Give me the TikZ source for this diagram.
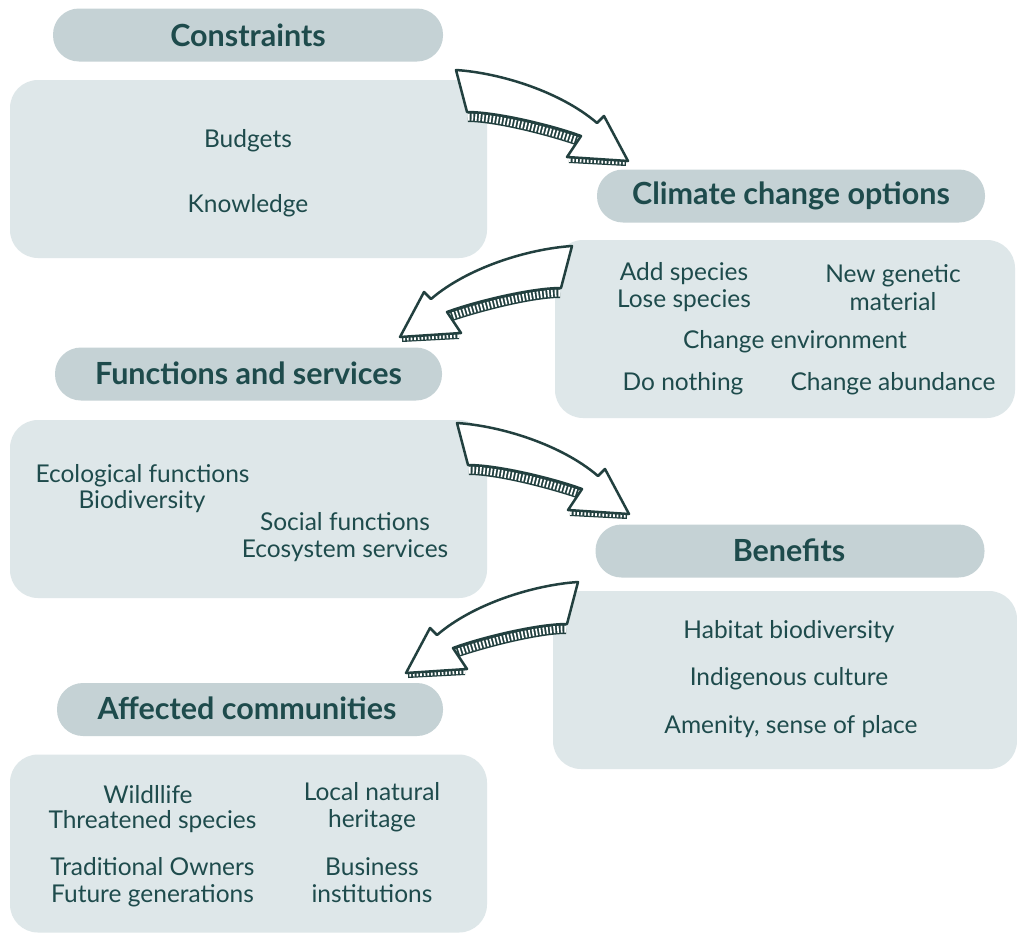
\documentclass[tikz,border=0pt]{standalone}
\usepackage{fontspec}
\setmainfont{Lato}
\definecolor{hdrc}{HTML}{C5D2D5}
\definecolor{bodyc}{HTML}{DEE7E9}
\definecolor{ink}{HTML}{1E4B4C}
\definecolor{arrc}{HTML}{22403F}
\tikzset{
  hdrbox/.style={fill=hdrc, rounded corners=26pt, minimum height=53pt, inner sep=0pt},
  bodybox/.style={fill=bodyc, rounded corners=28pt, minimum height=178pt, inner sep=0pt},
  htext/.style={text=ink, font=\fontsize{30.5}{36}\selectfont\bfseries, anchor=base, inner sep=0pt},
  btext/.style={text=ink, font=\fontsize{24.5}{29}\selectfont, anchor=base, inner sep=0pt},
  hatchband/.style={draw=arrc, line width=#1},
  hatchgap/.style={draw=white, line width=#1, dash pattern=on 1.7pt off 1.9pt},
  arrowface/.style={fill=white, draw=arrc, line width=2.5pt, line join=round}
}
\newcommand\ribbonarrow{%
  \draw[hatchband=10pt] (12,47) .. controls (40,47) and (95,61) .. (126,72);
  \draw[hatchgap=7pt] (12,47) .. controls (40,47) and (95,61) .. (126,72);
  \draw[hatchband=6pt] (113,90) -- (170,93);
  \draw[hatchgap=3.5pt] (113,90) -- (170,93);
  \draw[arrowface] (0,0) .. controls (45,3) and (105,22) .. (141,53) -- (148,46) -- (172,91)
     -- (111,87) -- (125,66) .. controls (95,55) and (40,42) .. (11,42) -- cycle;
}
\begin{document}
\begin{tikzpicture}[x=1pt,y=-1pt]
\useasboundingbox[fill=white] (0,0) rectangle (1017,937);

% bodies
\node[bodybox, minimum width=477pt] (b1) at (248.5,169) {};
\node[bodybox, minimum width=460pt] (b2) at (785,329) {};
\node[bodybox, minimum width=477pt] (b3) at (248.5,509) {};
\node[bodybox, minimum width=464pt] (b4) at (785,680) {};
\node[bodybox, minimum width=477pt] (b5) at (248.5,843.5) {};

% headers
\node[hdrbox, minimum width=390pt] (h1) at (248,35) {};
\node[hdrbox, minimum width=388pt] (h2) at (791,196) {};
\node[hdrbox, minimum width=387pt] (h3) at (248.5,374) {};
\node[hdrbox, minimum width=389pt] (h4) at (790,551) {};
\node[hdrbox, minimum width=386pt] (h5) at (250,709.5) {};

\node[htext] (t1) at (248,46) {Constraints};
\node[htext] (t2) at (791,204) {Climate change options};
\node[htext] (t3) at (248.5,384) {Functions and services};
\node[htext] (t4) at (789,561) {Benefits};
\node[htext] (t5) at (247,719) {Affected communities};

% constraints body
\node[btext] (c1) at (248,147) {Budgets};
\node[btext] (c2) at (248,212) {Knowledge};

% climate body
\node[btext] (o1) at (684,280) {Add species};
\node[btext] (o2) at (684,307) {Lose species};
\node[btext] (o3) at (893,282) {New genetic};
\node[btext] (o4) at (893,310) {material};
\node[btext] (o5) at (795,348) {Change environment};
\node[btext] (o6) at (683,390) {Do nothing};
\node[btext] (o7) at (893,390) {Change abundance};

% functions body
\node[btext] (f1) at (142.5,482) {Ecological functions};
\node[btext] (f2) at (142,508) {Biodiversity};
\node[btext] (f3) at (345,530) {Social functions};
\node[btext] (f4) at (345,557) {Ecosystem services};

% benefits body
\node[btext] (e1) at (789,638) {Habitat biodiversity};
\node[btext] (e2) at (789,685) {Indigenous culture};
\node[btext] (e3) at (791,733) {Amenity, sense of place};

% affected body
\node[btext] (a1) at (148,803) {Wildllife};
\node[btext] (a2) at (152.5,828) {Threatened species};
\node[btext] (a3) at (152.5,875) {Traditional Owners};
\node[btext] (a4) at (152.5,902) {Future generations};
\node[btext] (a5) at (372,800) {Local natural};
\node[btext] (a6) at (372,827) {heritage};
\node[btext] (a7) at (372,875) {Business};
\node[btext] (a8) at (372,902) {institutions};

% ribbon arrows
\begin{scope}[shift={(456,70)}]\ribbonarrow\end{scope}
\begin{scope}[shift={(572,246)}, xscale=-1]\ribbonarrow\end{scope}
\begin{scope}[shift={(457,423)}]\ribbonarrow\end{scope}
\begin{scope}[shift={(578,582)}, xscale=-1]\ribbonarrow\end{scope}
\end{tikzpicture}
\end{document}
